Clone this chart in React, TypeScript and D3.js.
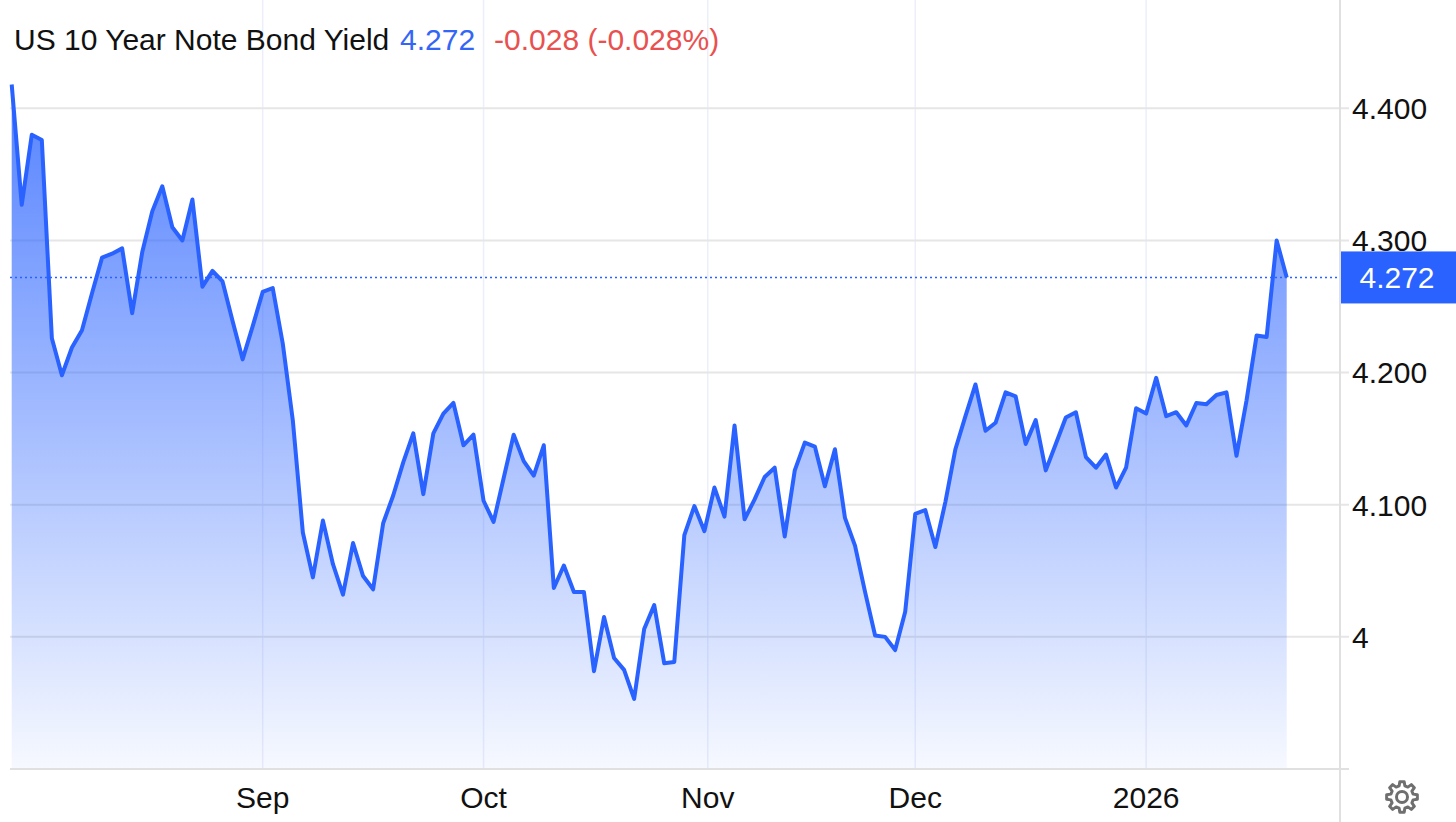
import React from "react";
import * as d3 from "d3";

// ---- data ----
const title = "US 10 Year Note Bond Yield";
const lastValueText = "4.272";
const changeText = "-0.028 (-0.028%)";
const startDate = "2025-07-28";
const yields: number[] = [
  4.418, 4.327, 4.38, 4.376, 4.226, 4.198, 4.219, 4.232, 4.26, 4.287,
  4.29, 4.294, 4.245, 4.291, 4.322, 4.341, 4.31, 4.3, 4.331, 4.265,
  4.277, 4.269, 4.239, 4.21, 4.235, 4.261, 4.264, 4.222, 4.164, 4.079,
  4.045, 4.088, 4.055, 4.032, 4.071, 4.046, 4.036, 4.086, 4.107, 4.132,
  4.154, 4.108, 4.154, 4.169, 4.177, 4.145, 4.153, 4.103, 4.087, 4.12,
  4.153, 4.133, 4.122, 4.145, 4.037, 4.054, 4.034, 4.034, 3.974, 4.015,
  3.984, 3.975, 3.953, 4.006, 4.024, 3.98, 3.981, 4.077, 4.099, 4.08,
  4.113, 4.091, 4.16, 4.089, 4.104, 4.121, 4.128, 4.076, 4.126, 4.147,
  4.144, 4.114, 4.142, 4.09, 4.069, 4.034, 4.001, 4.0, 3.99, 4.019,
  4.093, 4.096, 4.068, 4.102, 4.142, 4.167, 4.191, 4.156, 4.162, 4.185,
  4.182, 4.146, 4.164, 4.126, 4.146, 4.166, 4.17, 4.136, 4.128, 4.138,
  4.113, 4.128, 4.173, 4.169, 4.196, 4.167, 4.17, 4.16, 4.177, 4.176,
  4.183, 4.185, 4.137, 4.179, 4.228, 4.227, 4.3, 4.272,
];
const yTicks = [4.0, 4.1, 4.2, 4.3, 4.4];
const yTickLabels = ["4", "4.100", "4.200", "4.300", "4.400"];
const xTickDates = ["2025-09-01", "2025-10-01", "2025-11-01", "2025-12-01", "2026-01-01"];
const xTickLabels = ["Sep", "Oct", "Nov", "Dec", "2026"];

// trading-day categories (weekdays)
const parse = d3.utcParse("%Y-%m-%d");
const dates: Date[] = (() => {
  const out: Date[] = [];
  let d = parse(startDate)!;
  while (out.length < yields.length) {
    const wd = d.getUTCDay();
    if (wd !== 0 && wd !== 6) out.push(d);
    d = d3.utcDay.offset(d, 1);
  }
  return out;
})();

function fracIndex(date: Date): number {
  const t = date.getTime();
  for (let i = 0; i < dates.length - 1; i++) {
    const a = dates[i].getTime();
    const b = dates[i + 1].getTime();
    if (t >= a && t <= b) return i + (t - a) / (b - a);
  }
  return dates.length - 1;
}

const W = 1456;
const H = 822;
const FONT = "'Liberation Sans', Arial, Helvetica, sans-serif";
const BLUE = "#2962ff";
const FS = 30;

export default function App() {
  const x = d3.scaleLinear().domain([0, yields.length - 1]).range([11.7, 1286.7]);
  const y = d3.scaleLinear().domain([3.9, 4.4]).range([769, 108.3]);
  const plotLeft = 10;
  const axisX = 1340;
  const bottom = 769;

  const line = d3
    .line<number>()
    .x((_, i) => x(i))
    .y((d) => y(d));
  const area = d3
    .area<number>()
    .x((_, i) => x(i))
    .y0(bottom)
    .y1((d) => y(d));

  const last = yields[yields.length - 1];
  const lastY = y(last);

  // gear path
  const gcx = 1402, gcy = 797;
  const teeth = 8;
  const rOut = 15.5, rIn = 11.5;
  const pts: [number, number][] = [];
  for (let k = 0; k < teeth; k++) {
    const a0 = (k / teeth) * 2 * Math.PI;
    const step = (2 * Math.PI) / teeth;
    const angs = [
      [a0 - step * 0.32, rIn],
      [a0 - step * 0.18, rOut],
      [a0 + step * 0.18, rOut],
      [a0 + step * 0.32, rIn],
    ];
    angs.forEach(([a, r]) => pts.push([gcx + r * Math.cos(a), gcy + r * Math.sin(a)]));
  }
  const gearPath = d3.line().curve(d3.curveLinearClosed)(pts) || "";

  return (
    <svg
      width={W}
      height={H}
      style={{ position: "absolute", left: 0, top: 0, background: "#fff" }}
      fontFamily={FONT}
    >
      <defs>
        <linearGradient id="fillGrad" gradientUnits="userSpaceOnUse" x1="0" y1={y(4.42)} x2="0" y2={bottom}>
          <stop offset="0" stopColor={BLUE} stopOpacity={0.8} />
          <stop offset="0.5" stopColor={BLUE} stopOpacity={0.42} />
          <stop offset="1" stopColor={BLUE} stopOpacity={0.04} />
        </linearGradient>
      </defs>

      {/* vertical grid */}
      {xTickDates.map((ds, i) => {
        const xi = x(fracIndex(parse(ds)!));
        return <line key={"vg" + i} x1={xi} x2={xi} y1={0} y2={bottom} stroke="#eceffa" strokeWidth={1.5} />;
      })}
      {/* horizontal grid */}
      {yTicks.map((t, i) => (
        <line key={"hg" + i} x1={plotLeft} x2={axisX + 9} y1={y(t)} y2={y(t)} stroke="#e6e6e6" strokeWidth={2} />
      ))}

      {/* area + line */}
      <path d={area(yields) || ""} fill="url(#fillGrad)" />
      <path d={line(yields) || ""} fill="none" stroke={BLUE} strokeWidth={4} strokeLinejoin="round" />

      {/* last value dotted line */}
      <line x1={plotLeft} x2={axisX} y1={lastY} y2={lastY} stroke={BLUE} strokeWidth={1.5} strokeDasharray="2,3" />

      {/* axes */}
      <line x1={plotLeft} x2={axisX + 9} y1={bottom} y2={bottom} stroke="#e0e0e0" strokeWidth={2} />
      <line x1={axisX} x2={axisX} y1={0} y2={H} stroke="#e0e0e0" strokeWidth={2} />

      {/* y labels */}
      {yTicks.map((t, i) => (
        <text key={"yl" + i} x={1352} y={y(t)} dy="0.36em" fontSize={FS} fill="#111">
          {yTickLabels[i]}
        </text>
      ))}

      {/* last value tag */}
      <rect x={axisX + 1} y={lastY - 26} width={W - axisX - 1} height={52} fill={BLUE} />
      <text x={1397} y={lastY} dy="0.36em" textAnchor="middle" fontSize={FS} fill="#fff">
        {lastValueText}
      </text>

      {/* x labels */}
      {xTickDates.map((ds, i) => (
        <text
          key={"xl" + i}
          x={x(fracIndex(parse(ds)!))}
          y={808}
          textAnchor="middle"
          fontSize={FS}
          fill="#111"
        >
          {xTickLabels[i]}
        </text>
      ))}

      {/* header */}
      <text x={14} y={50} fontSize={FS} fill="#111">
        {title}
      </text>
      <text x={400} y={50} fontSize={FS} fill="#3366f6">
        {lastValueText}
      </text>
      <text x={494} y={50} fontSize={FS} fill="#e8514f">
        {changeText}
      </text>

      {/* gear icon */}
      <path d={gearPath} fill="none" stroke="#6f6f6f" strokeWidth={3} strokeLinejoin="round" />
      <circle cx={gcx} cy={gcy} r={5.5} fill="none" stroke="#6f6f6f" strokeWidth={3} />
    </svg>
  );
}
